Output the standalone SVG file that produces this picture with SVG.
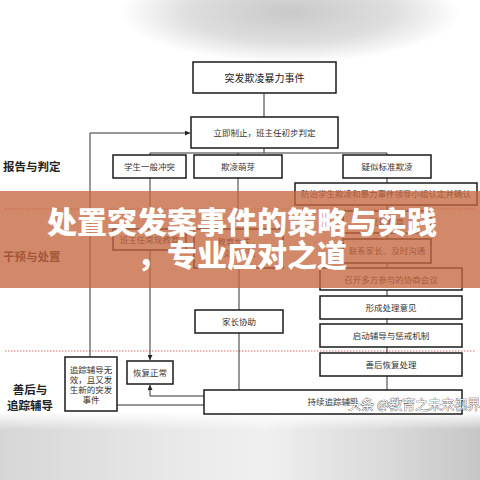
<svg xmlns="http://www.w3.org/2000/svg" width="480" height="480" viewBox="0 0 480 480">
<defs>
<radialGradient id="topg" cx="290" cy="12" r="170" gradientUnits="userSpaceOnUse" gradientTransform="translate(290 12) scale(1 0.3) translate(-290 -12)">
<stop offset="0" stop-color="#c9c9c9"/><stop offset="0.6" stop-color="#dedede"/><stop offset="1" stop-color="#ffffff"/>
</radialGradient>
<linearGradient id="botg" x1="0" y1="0" x2="1" y2="0">
<stop offset="0" stop-color="#d6d6d6"/><stop offset="0.35" stop-color="#e8e8e8"/><stop offset="0.55" stop-color="#f0f0f0"/><stop offset="0.8" stop-color="#dadada"/><stop offset="1" stop-color="#c6c6c6"/>
</linearGradient>
<linearGradient id="botfade" x1="0" y1="0" x2="0" y2="1">
<stop offset="0" stop-color="#ffffff" stop-opacity="1"/><stop offset="1" stop-color="#ffffff" stop-opacity="0"/>
</linearGradient>
<marker id="arr" viewBox="0 0 10 10" refX="10" refY="5" markerWidth="5" markerHeight="5" orient="auto">
<path d="M0,0 L10,5 L0,10 z" fill="#222"/>
</marker>
<style>
.box{fill:#fff;stroke:#1a1a1a;stroke-width:1.5}
.t{font-family:"Noto Sans CJK SC","Noto Sans",sans-serif;font-size:8.5px;fill:#333;text-anchor:middle}
.c{fill:none;stroke:#333;stroke-width:1}
.lab{font-family:"Noto Sans CJK SC","Noto Sans",sans-serif;font-size:11.5px;font-weight:bold;fill:#222}
.dash{stroke:#e06a6a;stroke-width:1;stroke-dasharray:1.5 1.5}
</style>
</defs>
<rect width="480" height="480" fill="#fff"/>
<rect x="0" y="0" width="480" height="60" fill="url(#topg)"/>
<rect x="0" y="412" width="480" height="68" fill="url(#botg)"/>
<rect x="0" y="412" width="480" height="18" fill="url(#botfade)"/>

<line class="dash" x1="5" y1="209" x2="475" y2="209"/>
<line class="dash" x1="5" y1="351" x2="475" y2="351"/>

<text class="lab" x="3" y="171">报告与判定</text>
<text class="lab" x="3" y="261">干预与处置</text>
<text class="lab" x="30" y="394" text-anchor="middle">善后与</text>
<text class="lab" x="30" y="410" text-anchor="middle">追踪辅导</text>

<g id="connectors">
<line class="c" x1="264" y1="93" x2="264" y2="117"/>
<line class="c" x1="264" y1="148" x2="264" y2="153"/>
<line class="c" x1="150" y1="153" x2="387" y2="153"/>
<line class="c" x1="150" y1="153" x2="150" y2="155"/>
<line class="c" x1="238" y1="153" x2="238" y2="155"/>
<line class="c" x1="387" y1="153" x2="387" y2="155"/>
<line class="c" x1="387" y1="178" x2="387" y2="183"/>
<line class="c" x1="387" y1="205" x2="387" y2="211"/>
<line class="c" x1="387" y1="233" x2="387" y2="239"/>
<line class="c" x1="387" y1="263" x2="387" y2="268"/>
<line class="c" x1="387" y1="290" x2="387" y2="296"/>
<line class="c" x1="387" y1="319" x2="387" y2="324"/>
<line class="c" x1="387" y1="347" x2="387" y2="353"/>
<line class="c" x1="387" y1="376" x2="387" y2="390"/>
<line class="c" x1="150" y1="178" x2="150" y2="229"/>
<line class="c" x1="150" y1="250" x2="150" y2="360" marker-end="url(#arr)"/>
<line class="c" x1="238" y1="178" x2="238" y2="229"/>
<line class="c" x1="239" y1="268" x2="239" y2="310"/>
<line class="c" x1="239" y1="333" x2="239" y2="390"/>
<path class="c" d="M90,357 V133 H190" marker-end="url(#arr)"/>
<path class="c" d="M204,396 H150 V385" marker-end="url(#arr)"/>
<line class="c" x1="117" y1="405" x2="204" y2="405"/>
</g>

<g id="n1"><rect class="box" x="193" y="62" width="143" height="31"/><text class="t" x="264.5" y="81.5" style="font-size:10px;fill:#222">突发欺凌暴力事件</text></g>
<g id="n2"><rect class="box" x="191" y="117" width="147" height="31"/><text class="t" x="264.5" y="136">立即制止，班主任初步判定</text></g>
<g id="n3"><rect class="box" x="113" y="155" width="73" height="23"/><text class="t" x="149.5" y="169.5">学生一般冲突</text></g>
<g id="n4"><rect class="box" x="194" y="155" width="88" height="23"/><text class="t" x="238" y="169.5">欺凌萌芽</text></g>
<g id="n5"><rect class="box" x="343" y="155" width="88" height="23"/><text class="t" x="387" y="169.5">疑似标准欺凌</text></g>
<g id="n6"><rect class="box" x="295" y="183" width="182" height="22"/><text class="t" x="386" y="197">防治学生欺凌和暴力事件领导小组认定并确认</text></g>
<g id="n7"><rect class="box" x="343" y="211" width="88" height="22"/><text class="t" x="387" y="225">批评教育</text></g>
<g id="n8"><rect class="box" x="343" y="239" width="88" height="24"/><text class="t" x="387" y="254">联系家长、及时沟通</text></g>
<g id="n9"><rect class="box" x="320" y="268" width="142" height="22"/><text class="t" x="391" y="282.5">召开多方参与的协商会议</text></g>
<g id="n10"><rect class="box" x="320" y="296" width="142" height="23"/><text class="t" x="391" y="310.5">形成处理意见</text></g>
<g id="n11"><rect class="box" x="320" y="324" width="142" height="23"/><text class="t" x="391" y="338.5">启动辅导与惩戒机制</text></g>
<g id="n12"><rect class="box" x="320" y="353" width="142" height="23"/><text class="t" x="391" y="367.5">善后恢复处理</text></g>
<g id="n13"><rect class="box" x="204" y="390" width="258" height="24"/><text class="t" x="333" y="405">持续追踪辅导</text></g>
<g id="n14"><rect class="box" x="113" y="229" width="73" height="21"/><text class="t" x="149.5" y="242.5">班主任常规教育</text></g>
<g id="n15"><rect class="box" x="194" y="229" width="89" height="39"/><text class="t" x="238.5" y="245">教育为主，</text><text class="t" x="238.5" y="256">及时沟通</text></g>
<g id="n16"><rect class="box" x="195" y="310" width="88" height="23"/><text class="t" x="239" y="324.5">家长协助</text></g>
<g id="n17"><rect class="box" x="127" y="361" width="46" height="23"/><text class="t" x="150" y="375.5">恢复正常</text></g>
<g id="n18"><rect class="box" x="65" y="357" width="52" height="54"/>
<text class="t" x="91" y="373">追踪辅导无</text><text class="t" x="91" y="383">效，且又发</text><text class="t" x="91" y="393">生新的突发</text><text class="t" x="91" y="403">事件</text></g>

<rect x="0" y="191" width="480" height="97" fill="rgb(196,104,64)" opacity="0.78"/>
<g font-family="'Noto Sans CJK SC','Noto Sans',sans-serif" font-size="30" font-weight="900" fill="#fff" text-anchor="middle">
<text x="242" y="233">处置突发案事件的策略与实践</text>
<text x="242" y="266">，专业应对之道</text>
</g>
<text x="348" y="409" font-family="'Noto Sans CJK SC',sans-serif" font-size="13" fill="#fff" stroke="#444" stroke-width="0.7" paint-order="stroke">头条 @教育之未来视界</text>
</svg>
